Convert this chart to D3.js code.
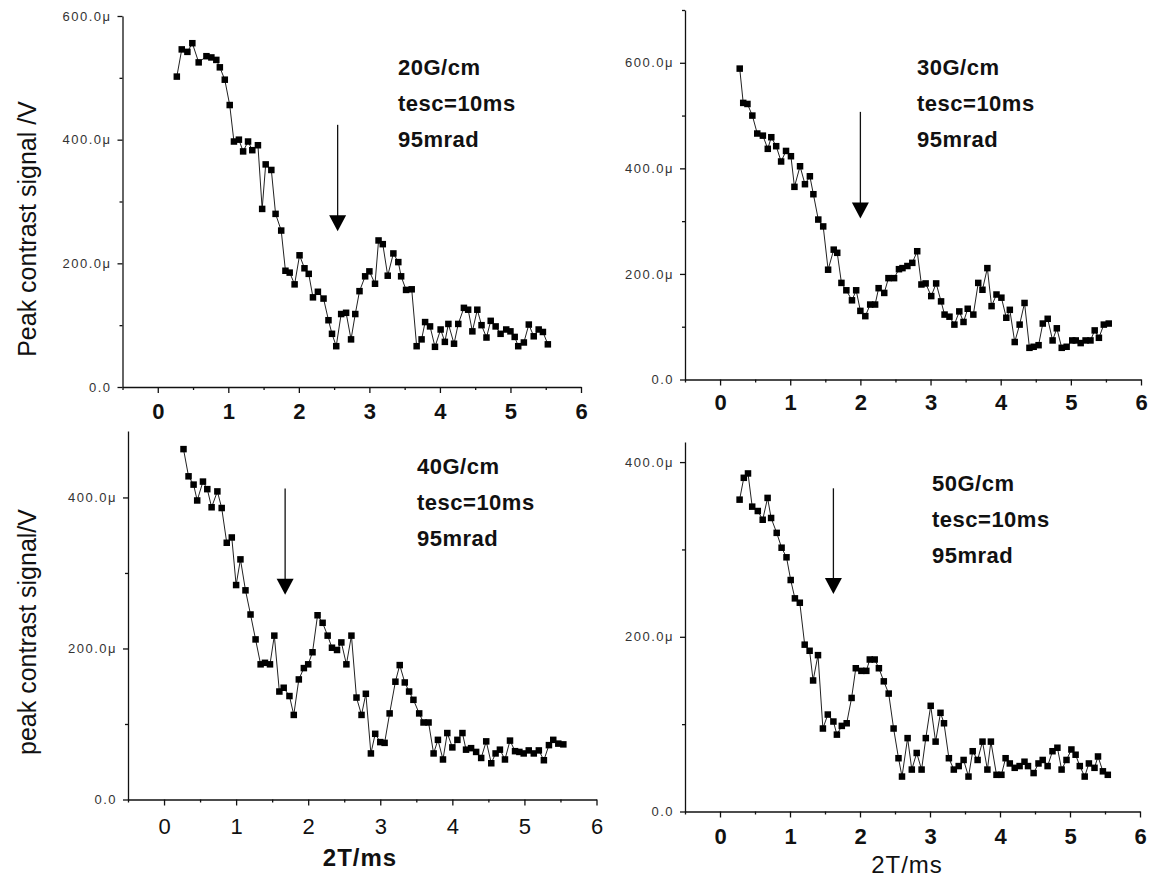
<!DOCTYPE html>
<html lang="en">
<head>
<meta charset="UTF-8">
<title>Peak contrast signal vs 2T</title>
<script src="https://d3js.org/d3.v7.min.js"></script>
<style>
  body { margin: 0; background: #fff; }
  text { font-family: "Liberation Sans", Arial, sans-serif; }
</style>
</head>
<body>
<div id="chart"></div>
<script>
// ---- data (x in ms, y in microvolts) ----
const p1X = [0.27,0.34,0.42,0.49,0.58,0.69,0.76,0.83,0.88,0.95,1.02,1.08,1.15,1.21,1.28,1.34,1.42,1.48,1.53,1.61,1.67,1.75,1.81,1.87,1.94,2.01,2.08,2.14,2.20,2.27,2.35,2.42,2.47,2.53,2.60,2.67,2.74,2.80,2.86,2.94,3.00,3.08,3.13,3.19,3.26,3.34,3.41,3.45,3.52,3.60,3.67,3.74,3.79,3.86,3.93,4.01,4.07,4.12,4.20,4.26,4.34,4.40,4.46,4.53,4.59,4.66,4.72,4.79,4.86,4.94,5.00,5.06,5.11,5.19,5.26,5.33,5.40,5.46,5.53];
const p1Y = [502,546,542,556,525,535,533,529,517,497,456,397,400,381,397,383,391,288,360,351,280,253,188,185,166,213,192,183,145,154,143,108,86,66,118,120,77,118,155,179,187,167,237,231,180,216,202,179,157,158,66,77,105,98,65,93,73,102,70,102,128,125,90,125,100,80,107,98,86,93,90,81,66,72,101,82,93,89,69];

const p2X = [0.28,0.33,0.39,0.46,0.53,0.61,0.68,0.73,0.80,0.87,0.94,1.01,1.06,1.14,1.21,1.28,1.33,1.40,1.47,1.54,1.62,1.67,1.73,1.80,1.88,1.94,2.00,2.07,2.14,2.21,2.26,2.34,2.40,2.48,2.55,2.60,2.67,2.74,2.81,2.87,2.93,3.01,3.08,3.15,3.20,3.27,3.34,3.41,3.47,3.53,3.61,3.68,3.74,3.81,3.87,3.94,4.01,4.08,4.13,4.20,4.27,4.34,4.41,4.47,4.54,4.60,4.67,4.74,4.80,4.87,4.94,5.02,5.07,5.14,5.21,5.28,5.34,5.40,5.47,5.54];
const p2Y = [589,524,522,500,466,462,437,459,442,413,433,423,365,404,370,385,351,303,290,208,246,240,183,169,150,169,130,120,142,142,173,164,192,192,209,211,215,221,243,180,182,158,182,148,123,119,104,129,109,134,123,183,170,211,139,161,155,117,132,71,104,145,60,62,65,106,115,74,97,60,62,74,74,69,74,74,93,79,104,106];

const p3X = [0.27,0.34,0.41,0.46,0.54,0.60,0.66,0.74,0.80,0.87,0.94,1.00,1.06,1.13,1.20,1.27,1.34,1.40,1.47,1.53,1.60,1.66,1.74,1.80,1.87,1.94,2.00,2.06,2.13,2.20,2.27,2.33,2.40,2.46,2.53,2.60,2.67,2.74,2.80,2.87,2.93,3.00,3.06,3.13,3.21,3.27,3.34,3.40,3.46,3.54,3.60,3.67,3.74,3.80,3.87,3.93,4.00,4.07,4.14,4.19,4.26,4.33,4.40,4.47,4.54,4.60,4.66,4.73,4.80,4.87,4.93,4.99,5.06,5.13,5.20,5.27,5.34,5.40,5.47,5.54];
const p3Y = [464,428,417,396,421,411,387,408,386,340,347,284,318,277,245,212,179,181,179,217,143,148,137,112,159,174,179,195,244,234,217,201,198,208,179,217,135,112,140,61,87,76,75,114,156,178,155,143,132,114,102,102,61,79,53,88,69,79,88,66,68,63,55,77,48,61,66,53,78,64,63,61,65,61,65,52,72,79,74,73];

const p4X = [0.28,0.34,0.40,0.46,0.54,0.61,0.68,0.73,0.81,0.88,0.95,1.01,1.07,1.14,1.21,1.28,1.33,1.40,1.47,1.54,1.62,1.67,1.74,1.81,1.88,1.94,2.02,2.09,2.14,2.21,2.27,2.34,2.41,2.48,2.55,2.60,2.68,2.74,2.81,2.88,2.94,3.01,3.08,3.15,3.20,3.27,3.34,3.41,3.48,3.55,3.61,3.68,3.75,3.82,3.87,3.95,4.02,4.08,4.14,4.21,4.28,4.35,4.40,4.48,4.55,4.61,4.68,4.75,4.82,4.88,4.95,5.02,5.08,5.14,5.21,5.27,5.35,5.40,5.47,5.54];
const p4Y = [357,382,387,349,344,334,359,336,319,302,291,265,244,239,191,184,150,179,95,111,103,88,98,101,130,164,161,161,174,174,164,149,135,95,61,40,84,48,67,48,84,121,80,113,101,61,48,52,59,40,69,59,80,48,80,42,42,61,55,50,52,57,52,44,55,59,52,69,73,48,59,71,65,52,40,55,50,63,46,42];

const xTicks = [0, 1, 2, 3, 4, 5, 6];
const xMinor = [-0.5, 0.5, 1.5, 2.5, 3.5, 4.5, 5.5];
const yTicks = [0, 200, 400, 600];
const yMinor = [100, 300, 500, 700];

const labels1 = ["20G/cm", "tesc=10ms", "95mrad"];
const labels2 = ["30G/cm", "tesc=10ms", "95mrad"];
const labels3 = ["40G/cm", "tesc=10ms", "95mrad"];
const labels4 = ["50G/cm", "tesc=10ms", "95mrad"];

// arrow: [x, yTop, yTip]
const arrow1 = [2.55, 424, 252];
const arrow2 = [2.00, 507, 305];
const arrow3 = [1.68, 412, 271];
const arrow4 = [1.62, 370, 249];

// ---- layout ----
const width = 1154, height = 882;
const svg = d3.select("#chart").append("svg")
    .attr("width", width)
    .attr("height", height)
    .style("background", "#fff");

const panels = [
  { xs: p1X, ys: p1Y, yMax: 600, xr: [122.5, 581], yr: [387, 16],
    texts: labels1, tx: 398, ty: 75, arrow: arrow1,
    tickBold: true, tickDy: 24, yTitle: "Peak contrast signal /V", yTitleX: 27, yTitleY: 229 },
  { xs: p2X, ys: p2Y, yMax: 700, xr: [685, 1141], yr: [379.5, 10],
    texts: labels2, tx: 917, ty: 75, arrow: arrow2,
    tickBold: true, tickDy: 23 },
  { xs: p3X, ys: p3Y, yMax: 488, xr: [128, 596.5], yr: [799.5, 431],
    texts: labels3, tx: 417, ty: 474, arrow: arrow3,
    tickBold: false, tickDy: 27, xTitle: "2T/ms", xTitleBold: true, xTitleX: 360, xTitleY: 866,
    yTitle: "peak contrast signal/V", yTitleX: 27, yTitleY: 632 },
  { xs: p4X, ys: p4Y, yMax: 423, xr: [685, 1140], yr: [811.5, 442],
    texts: labels4, tx: 932, ty: 491, arrow: arrow4,
    tickBold: true, tickDy: 25, xTitle: "2T/ms", xTitleBold: false, xTitleX: 907, xTitleY: 873 }
];

panels.forEach(p => {
  const x = d3.scaleLinear().domain([-0.5, 6]).range(p.xr);
  const y = d3.scaleLinear().domain([0, p.yMax]).range(p.yr);
  const g = svg.append("g");

  // x axis
  const xa = g.append("g").attr("transform", `translate(0,${p.yr[0]})`);
  xa.call(d3.axisBottom(x).tickValues(xTicks).tickSize(6).tickSizeOuter(0).tickFormat(d3.format("d")));
  xa.append("g").call(d3.axisBottom(x).tickValues(xMinor).tickSize(3).tickFormat(""))
    .select(".domain").remove();
  xa.selectAll("text")
    .attr("y", p.tickDy - 8)
    .attr("dy", "0.71em")
    .attr("fill", "#111")
    .style("font-size", "22px")
    .style("font-weight", p.tickBold ? "bold" : "normal");

  // y axis
  const ya = g.append("g").attr("transform", `translate(${p.xr[0]},0)`);
  ya.call(d3.axisLeft(y).tickValues(yTicks.filter(v => v <= p.yMax)).tickSize(5).tickSizeOuter(0).tickPadding(6)
      .tickFormat(d => d === 0 ? "0.0" : d.toFixed(1) + "μ"));
  ya.append("g").call(d3.axisLeft(y).tickValues(yMinor.filter(v => v <= p.yMax)).tickSize(3).tickFormat(""))
    .select(".domain").remove();
  ya.selectAll("text").attr("fill", "#333").style("font-size", "13px").style("letter-spacing", "1.5px");

  g.selectAll(".domain, .tick line").attr("stroke", "#111").attr("stroke-width", 1.3);

  // series
  const pts = d3.zip(p.xs, p.ys);
  g.append("path")
    .datum(pts)
    .attr("fill", "none")
    .attr("stroke", "#222")
    .attr("stroke-width", 1)
    .attr("d", d3.line().x(d => x(d[0])).y(d => y(d[1])));

  g.selectAll("rect.pt")
    .data(pts)
    .join("rect")
    .attr("class", "pt")
    .attr("x", d => x(d[0]) - 3.25)
    .attr("y", d => y(d[1]) - 3.25)
    .attr("width", 6.5)
    .attr("height", 6.5)
    .attr("fill", "#000");

  // arrow
  const [ax, aTop, aTip] = p.arrow;
  const headLen = 16, headW = 8.5;
  g.append("line")
    .attr("x1", x(ax)).attr("x2", x(ax))
    .attr("y1", y(aTop)).attr("y2", y(aTip) - headLen + 1)
    .attr("stroke", "#111").attr("stroke-width", 1.3);
  g.append("path")
    .attr("d", `M${x(ax) - headW},${y(aTip) - headLen} L${x(ax) + headW},${y(aTip) - headLen} L${x(ax)},${y(aTip)} Z`)
    .attr("fill", "#000");

  // annotation text
  g.selectAll("text.note")
    .data(p.texts)
    .join("text")
    .attr("class", "note")
    .attr("x", p.tx)
    .attr("y", (d, i) => p.ty + i * 36)
    .attr("fill", "#111")
    .style("font-size", "22px")
    .style("font-weight", "bold")
    .style("letter-spacing", "0.5px")
    .text(d => d);

  if (p.yTitle) {
    g.append("text")
      .attr("transform", `translate(${p.yTitleX},${p.yTitleY}) rotate(-90)`)
      .attr("text-anchor", "middle")
      .attr("dy", "0.35em")
      .attr("fill", "#111")
      .style("font-size", "25px")
      .text(p.yTitle);
  }
  if (p.xTitle) {
    g.append("text")
      .attr("x", p.xTitleX)
      .attr("y", p.xTitleY)
      .attr("text-anchor", "middle")
      .attr("fill", "#111")
      .style("font-size", "24px")
      .style("font-weight", p.xTitleBold ? "bold" : "normal")
      .style("letter-spacing", "1px")
      .text(p.xTitle);
  }
});
</script>
</body>
</html>
